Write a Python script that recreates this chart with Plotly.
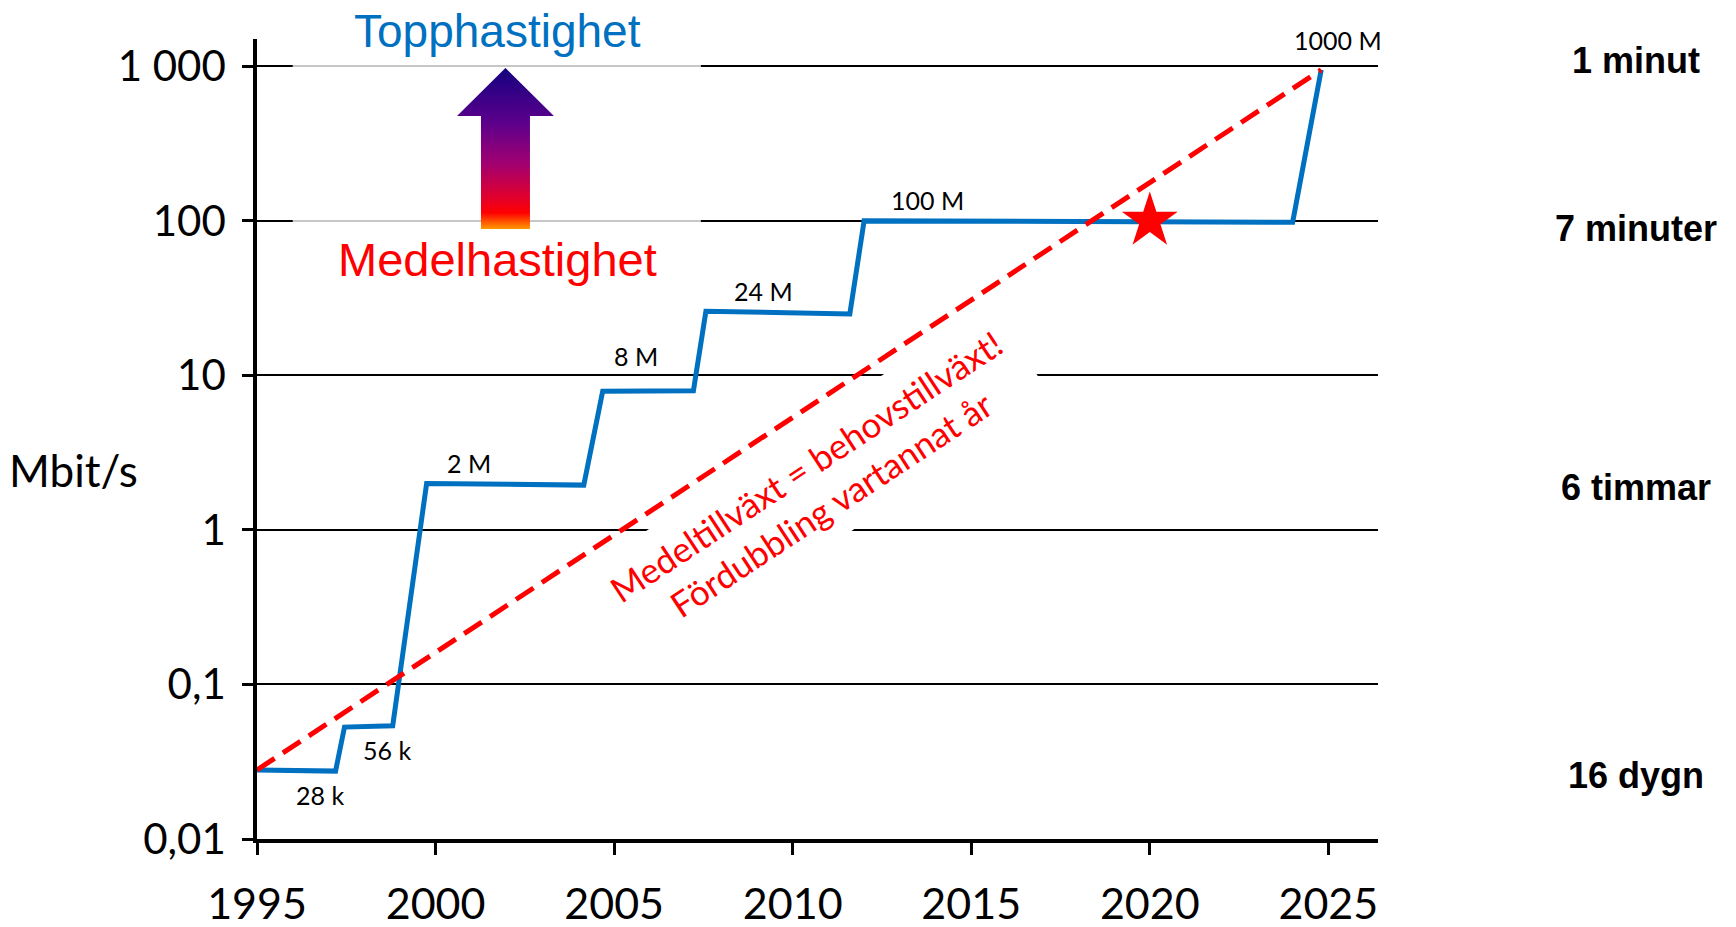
import base64
import plotly.graph_objects as go

# ---------------- data ----------------
years = [1995.0, 1997.2, 1997.45, 1998.8, 1999.75, 2004.15, 2004.68, 2007.22, 2007.57, 2011.6, 2012.0, 2024.0, 2024.8]
speed_mbps = [0.028, 0.0275, 0.053, 0.054, 2.0, 1.95, 7.9, 7.95, 26.0, 25.0, 100.0, 98.0, 950.0]

trend_years = [1995.0, 2024.8]
trend_speed = [0.028, 950.0]

star_year = [2020]
star_speed = [100]

step_labels = ["28 k", "56 k", "2 M", "8 M", "24 M", "100 M", "1000 M"]
step_label_x = [1996.77, 1998.63, 2000.95, 2005.60, 2009.19, 2013.78, 2025.28]
step_label_logy = [-1.714, -1.427, 0.436, 1.123, 1.546, 2.133, 3.171]

x_ticks = [1995, 2000, 2005, 2010, 2015, 2020, 2025]
y_ticks = [0.01, 0.1, 1, 10, 100, 1000]
y_tick_text = ["0,01", "0,1", "1", "10", "100", "1 000"]

time_labels = ["1 minut", "7 minuter", "6 timmar", "16 dygn"]
time_label_logy = [3.035, 1.948, 0.272, -1.591]

# ---------------- figure ----------------
CAL = "Lato"
fig = go.Figure()

fig.add_trace(go.Scatter(
    x=years, y=speed_mbps, mode="lines",
    line=dict(color="#0070C0", width=5),
    hoverinfo="skip", showlegend=False))

fig.add_trace(go.Scatter(
    x=trend_years, y=trend_speed, mode="lines",
    line=dict(color="#FF0000", width=5, dash="21px,10px"),
    hoverinfo="skip", showlegend=False))

fig.add_trace(go.Scatter(
    x=star_year, y=star_speed, mode="markers",
    marker=dict(symbol="star", size=42, color="#FF0000", line=dict(width=0)),
    hoverinfo="skip", showlegend=False))

annotations = []
for t, x, ly in zip(step_labels, step_label_x, step_label_logy):
    annotations.append(dict(x=x, y=ly, xref="x", yref="y", text=t, showarrow=False,
                            font=dict(family=CAL, size=25, color="black"),
                            xanchor="center", yanchor="middle"))

for t, ly in zip(time_labels, time_label_logy):
    annotations.append(dict(x=1.2302, y=ly, xref="paper", yref="y", text="<b>%s</b>" % t,
                            showarrow=False, xanchor="center", yanchor="middle",
                            font=dict(family="Liberation Sans", size=36, color="black")))

annotations.append(dict(x=-0.1641, y=0.461, xref="paper", yref="paper", text="Mbit/s",
                        showarrow=False, xanchor="center", yanchor="middle",
                        font=dict(family=CAL, size=44, color="black")))

annotations.append(dict(x=0.2141, y=1.0105, xref="paper", yref="paper", text="Topphastighet",
                        showarrow=False, xanchor="center", yanchor="middle",
                        font=dict(family="Liberation Sans", size=46, color="#0070C0")))
annotations.append(dict(x=0.2141, y=0.725, xref="paper", yref="paper", text="Medelhastighet",
                        showarrow=False, xanchor="center", yanchor="middle",
                        font=dict(family="Liberation Sans", size=47, color="#FF0000")))

annotations.append(dict(x=2010.72, y=0.292, xref="x", yref="y",
                        text="Medeltillväxt = behovstillväxt!<br>Fördubbling vartannat år",
                        showarrow=False, textangle=-33.4, align="center",
                        xanchor="center", yanchor="middle", bgcolor="white", borderpad=12,
                        font=dict(family=CAL, size=35, color="#FF0000")))

# gradient arrow as an SVG image
svg = ('<svg xmlns="http://www.w3.org/2000/svg" width="97" height="161" viewBox="0 0 97 161" '
       'preserveAspectRatio="none"><defs><linearGradient id="g" x1="0" y1="0" x2="0" y2="1">'
       '<stop offset="0" stop-color="#14007f"/>'
       '<stop offset="0.35" stop-color="#5e008c"/>'
       '<stop offset="0.6" stop-color="#a3006f"/>'
       '<stop offset="0.8" stop-color="#e0002e"/>'
       '<stop offset="0.9" stop-color="#ff0000"/>'
       '<stop offset="1" stop-color="#ff9900"/>'
       '</linearGradient></defs>'
       '<polygon points="48.5,0 97,48 73,48 73,161 24,161 24,48 0,48" fill="url(#g)"/></svg>')
src = "data:image/svg+xml;base64," + base64.b64encode(svg.encode()).decode()

# page body has an 8px margin: figure is shifted accordingly
fig.update_layout(
    width=1728, height=919,
    margin=dict(l=249, r=358, t=31, b=88, autoexpand=False),
    paper_bgcolor="white", plot_bgcolor="white",
    showlegend=False,
    annotations=annotations,
    images=[dict(source=src, xref="paper", yref="paper", x=0.1784, y=0.9638,
                 sizex=0.0865, sizey=0.2013, sizing="stretch",
                 xanchor="left", yanchor="top", layer="above")],
    shapes=[dict(type="rect", xref="x", yref="y", x0=1996.0, x1=2007.43, y0=50, y1=1500,
                 fillcolor="white", opacity=0.78, line=dict(width=0), layer="between")],
)

fig.update_xaxes(
    range=[1995, 2026.39], tickvals=x_ticks, ticktext=[str(v) for v in x_ticks],
    showgrid=False, zeroline=False,
    showline=True, linecolor="black", linewidth=4,
    ticks="outside", ticklen=12, tickwidth=3, tickcolor="black",
    ticklabelstandoff=12,
    tickfont=dict(family=CAL, size=43, color="black"))

fig.update_yaxes(
    type="log", range=[-2, 3.177], tickvals=y_ticks, ticktext=y_tick_text,
    showgrid=True, gridcolor="black", gridwidth=2,
    zeroline=False,
    showline=True, linecolor="black", linewidth=3.5,
    ticks="outside", ticklen=11, tickwidth=3, tickcolor="black",
    ticklabelstandoff=8,
    tickfont=dict(family=CAL, size=42, color="black"))

fig.write_html("out.html")
